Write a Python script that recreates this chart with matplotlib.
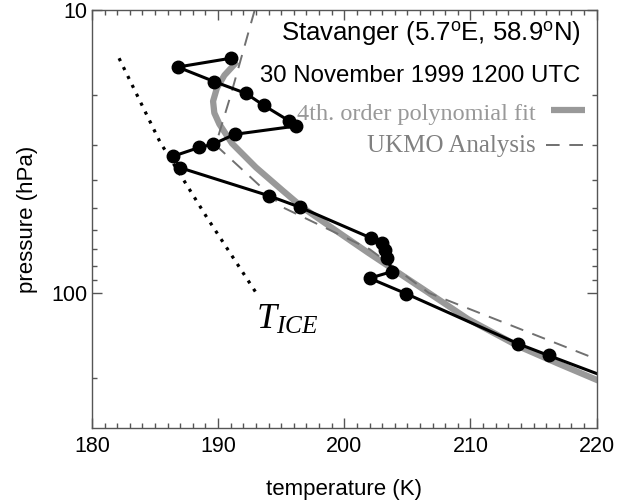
import numpy as np
import matplotlib.pyplot as plt
from matplotlib.ticker import FixedLocator, NullFormatter, FixedFormatter

plt.rcParams['font.family'] = ['Liberation Sans', 'DejaVu Sans']
plt.rcParams['mathtext.fontset'] = 'custom'
plt.rcParams['mathtext.rm'] = 'Liberation Sans'
plt.rcParams['mathtext.it'] = 'Liberation Serif:italic'

# radiosonde ascent, temperature (K) and pressure (hPa)
sonde_t = [191.0, 186.8, 189.7, 192.2, 193.6, 195.6, 196.2, 191.3, 189.6, 188.5,
           186.4, 187.0, 194.0, 196.5, 202.1, 203.0, 203.2, 203.4, 203.8, 202.0,
           204.9, 213.8, 216.2, 224.0]
sonde_p = [14.8, 15.9, 17.9, 19.7, 21.7, 24.6, 25.7, 27.5, 29.8, 30.6,
           32.9, 36.1, 45.3, 49.8, 63.9, 66.8, 70.5, 75.3, 84.0, 88.7,
           100.6, 151.4, 166.4, 225.0]

# 4th order polynomial fit to the sonde profile
fit_t = [191.5, 190.5, 189.9, 189.6, 189.7, 190.1, 191.1, 193.0, 195.1, 196.7,
         199.8, 201.9, 204.3, 206.7, 209.8, 213.8, 216.9, 220.1, 224.0]
fit_p = [15.2, 17.0, 18.9, 21.0, 23.1, 25.3, 29.6, 36.0, 43.4, 49.9,
         62.2, 72.1, 84.9, 100.0, 123.7, 154.3, 177.3, 203.8, 238.1]

# UKMO analysis at standard levels
ukmo_t = [192.9, 191.0, 189.8, 195.2, 202.0, 206.7, 216.7, 223.8]
ukmo_p = [10, 20, 30, 50, 70, 100, 150, 200]

# ice frost point temperature
tice_t = [182.15, 185.4, 189.1, 193.0]
tice_p = [14.8, 29.3, 54.0, 99.7]

fig = plt.figure(figsize=(6.17, 5.04), dpi=100)
ax = fig.add_axes([0.149, 0.151, 0.818, 0.829])

ax.plot(fit_t, fit_p, color='#999999', lw=4.5, solid_capstyle='butt')
ax.plot(ukmo_t, ukmo_p, color='#707070', lw=1.4, dashes=(7, 5))
ax.plot(tice_t, tice_p, color='black', lw=2.3, dashes=(1, 2.1))
ax.plot(sonde_t, sonde_p, color='black', lw=2.2, marker='o', ms=9)

ax.set_yscale('log')
ax.set_xlim(180, 220)
ax.set_ylim(300, 10)

ax.xaxis.set_major_locator(FixedLocator([180, 190, 200, 210, 220]))
ax.xaxis.set_minor_locator(FixedLocator(np.arange(180, 221, 1)))
ax.yaxis.set_major_locator(FixedLocator([10, 100]))
ax.yaxis.set_major_formatter(FixedFormatter(['10', '100']))
ax.yaxis.set_minor_locator(FixedLocator([20, 30, 40, 50, 60, 70, 80, 90, 200]))
ax.yaxis.set_minor_formatter(NullFormatter())

ax.tick_params(which='both', direction='in', top=True, right=True,
               color='#555555', labelsize=15.5)
ax.tick_params(axis='x', which='both', pad=6)
ax.tick_params(axis='y', which='both', pad=3)
ax.tick_params(which='major', length=7, width=1)
ax.tick_params(which='minor', length=3.5, width=1)
for sp in ax.spines.values():
    sp.set_color('#555555')
    sp.set_linewidth(1)

ax.set_xlabel('temperature (K)', fontsize=16, labelpad=16)
ax.set_ylabel('pressure (hPa)', fontsize=16, labelpad=10)

ax.text(0.968, 0.945, r'Stavanger (5.7$^{\rm o}$E, 58.9$^{\rm o}$N)',
        transform=ax.transAxes, ha='right', va='center', fontsize=18.5)
ax.text(0.968, 0.842, '30 November 1999 1200 UTC',
        transform=ax.transAxes, ha='right', va='center', fontsize=17.3)

# legend entries
ax.text(0.880, 0.751, '4th. order polynomial fit', transform=ax.transAxes,
        ha='right', va='center', fontsize=17.5, color='#999999',
        family='Liberation Serif')
ax.plot([0.909, 0.976], [0.761, 0.761], transform=ax.transAxes,
        color='#999999', lw=4.5, solid_capstyle='butt')
ax.text(0.880, 0.675, 'UKMO Analysis', transform=ax.transAxes,
        ha='right', va='center', fontsize=18, color='#808080',
        family='Liberation Serif')
ax.plot([0.899, 0.976], [0.677, 0.677], transform=ax.transAxes,
        color='#707070', lw=1.4, dashes=(7, 5))

ax.text(193.0, 108, r'$T_{ICE}$', ha='left', va='top', fontsize=26)

fig.savefig('out.png', dpi=100)
